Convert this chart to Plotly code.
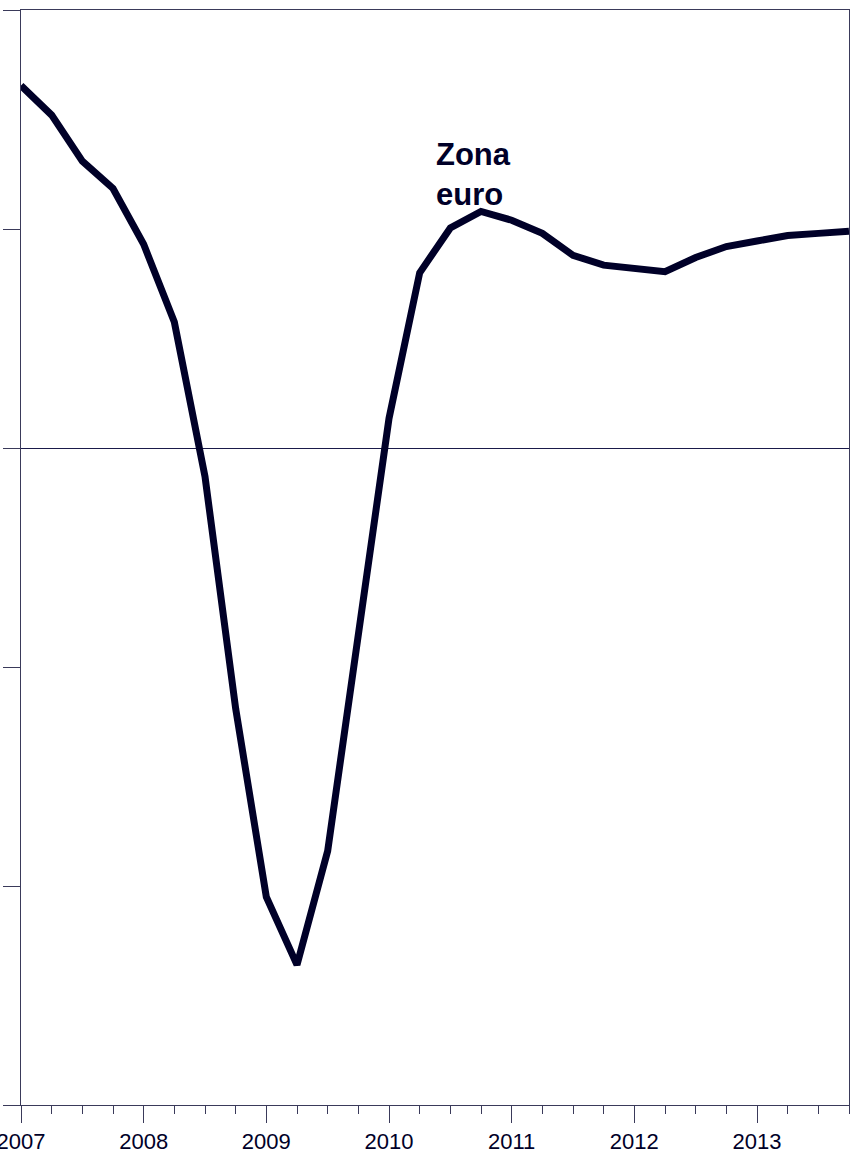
import plotly.graph_objects as go

quarters = [2007 + 0.25 * i for i in range(28)]
zona_euro = [3.31, 3.04, 2.62, 2.37, 1.86, 1.15, -0.26, -2.38,
             -4.10, -4.72, -3.68, -1.75, 0.27, 1.60, 2.01, 2.16,
             2.08, 1.96, 1.76, 1.67, 1.64, 1.61, 1.74, 1.84,
             1.89, 1.94, 1.96, 1.98]
year_ticks = [2007, 2008, 2009, 2010, 2011, 2012, 2013]
year_labels = ["2007", "2008", "2009", "2010", "2011", "2012", "2013"]
y_ticks = [-6, -4, -2, 0, 2, 4]
series_label = "Zona<br>euro"

navy = "#000028"
axis_col = "#3a3a5a"

fig = go.Figure()
fig.add_trace(go.Scatter(
    x=quarters, y=zona_euro, mode="lines",
    line=dict(color=navy, width=7), showlegend=False, hoverinfo="skip"))

fig.add_annotation(
    x=2010.37, y=2.855, xref="x", yref="y", text="<b>" + series_label + "</b>",
    showarrow=False, xanchor="left", yanchor="top", align="left",
    font=dict(family="Liberation Sans, Arial, sans-serif", size=31, color=navy))

fig.update_layout(
    width=851, height=1159,
    margin=dict(l=21, r=2, t=10, b=54),
    paper_bgcolor="white", plot_bgcolor="white",
    font=dict(family="Liberation Sans, Arial, sans-serif", color=navy),
)
fig.update_xaxes(
    range=[2007, 2013.75], tickmode="array", tickvals=year_ticks, ticktext=year_labels,
    ticks="outside", ticklen=17, tickwidth=1, tickcolor=axis_col,
    minor=dict(dtick=0.25, tick0=2007, ticks="outside", ticklen=8, tickwidth=1, tickcolor=axis_col, showgrid=False),
    showline=True, linecolor=axis_col, linewidth=1, mirror=True,
    showgrid=False, zeroline=False, automargin=False, ticklabeloverflow="allow",
    tickfont=dict(size=22, color=navy),
)
fig.update_yaxes(
    range=[-6, 4], tickmode="array", tickvals=y_ticks,
    ticks="outside", ticklen=17, tickwidth=1, tickcolor=axis_col,
    showticklabels=False, automargin=False,
    showline=True, linecolor=axis_col, linewidth=1, mirror=True,
    showgrid=False, zeroline=True, zerolinecolor="#1a1a4a", zerolinewidth=1,
)

fig.write_html("out.html", config={"displayModeBar": False},
               post_script="document.body.style.margin='0';document.body.style.padding='0';")
